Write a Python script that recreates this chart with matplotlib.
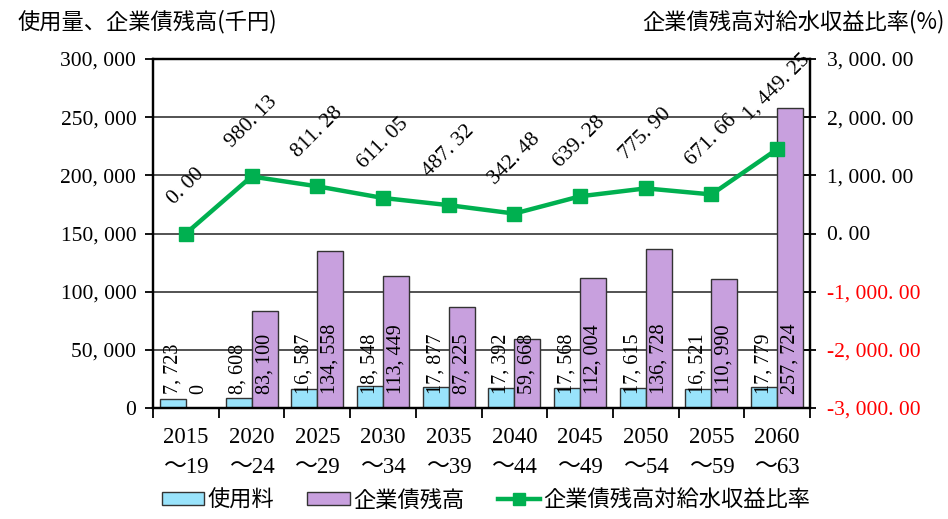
import matplotlib
matplotlib.use("Agg")
import matplotlib.pyplot as plt
import numpy as np
from matplotlib.patches import Patch
from matplotlib.lines import Line2D

plt.rcParams['font.family'] = ['Noto Sans CJK JP', 'DejaVu Sans']

# ---- data ----
period_start = ["2015", "2020", "2025", "2030", "2035", "2040", "2045", "2050", "2055", "2060"]
period_end = ["～19", "～24", "～29", "～34", "～39", "～44", "～49", "～54", "～59", "～63"]
usage_fee = [7723, 8608, 16587, 18548, 17877, 17392, 17568, 17615, 16521, 17779]
bond_balance = [0, 83100, 134558, 113449, 87225, 59668, 112004, 136728, 110990, 257724]
bond_ratio = [0.00, 980.13, 811.28, 611.05, 487.32, 342.48, 639.28, 775.90, 671.66, 1449.25]

left_ticks = [0, 50000, 100000, 150000, 200000, 250000, 300000]
right_ticks = [-3000, -2000, -1000, 0, 1000, 2000, 3000]

series_names = ["使用料", "企業債残高", "企業債残高対給水収益比率"]
left_title = "使用量、企業債残高(千円)"
right_title = "企業債残高対給水収益比率(%)"

# ---- style ----
c_blue = "#99E3FB"
c_purple = "#C8A0DE"
c_green = "#00B050"
num_font = ['Liberation Serif', 'Noto Sans CJK JP']
jp_size = 16

def fmt_int(v):
    return f"{v:,}".replace(",", ", ")

def fmt_2f(v):
    return f"{v:,.2f}".replace(",", ", ").replace(".", ". ")

fig = plt.figure(figsize=(9.48, 5.19), dpi=100)
ax = fig.add_axes([153/948, 1-408/519, (810-153)/948, (408-59)/519])
ax2 = ax.twinx()

x = np.arange(len(period_start))
w = 0.396

ax.set_axisbelow(True)
ax.yaxis.grid(True, color="#444444", linewidth=1.3)
ax.bar(x - w/2, usage_fee, width=w, color=c_blue, edgecolor="#333333", linewidth=1.0, zorder=2)
ax.bar(x + w/2, bond_balance, width=w, color=c_purple, edgecolor="#333333", linewidth=1.0, zorder=2)

for xi, v in zip(x, usage_fee):
    ax.annotate(fmt_int(v), (xi - w/2, 0), xytext=(0, 10), textcoords="offset points",
                rotation=90, ha="center", va="bottom", fontsize=14.5,
                family=num_font, zorder=3)
for xi, v in zip(x, bond_balance):
    ax.annotate(fmt_int(v), (xi + w/2, 0), xytext=(0, 10), textcoords="offset points",
                rotation=90, ha="center", va="bottom", fontsize=14.5,
                family=num_font, zorder=3)

ax.set_xlim(-0.5, len(x) - 0.5)
ax.set_ylim(0, 300000)
ax.set_yticks(left_ticks)
ax.set_yticklabels([fmt_int(v) for v in left_ticks], family=num_font, fontsize=15.5)
ax.set_xticks(np.arange(len(x) + 1) - 0.5)
ax.set_xticklabels([])
ax.set_xticks(x, minor=True)
ax.set_xticklabels([f"{a}\n{b}" for a, b in zip(period_start, period_end)], minor=True,
                   family=num_font, fontsize=16.5, linespacing=1.55)
ax.tick_params(axis="x", which="major", direction="out", length=7, width=1.3)
ax.tick_params(axis="x", which="minor", length=0, pad=14)
ax.tick_params(axis="y", direction="out", length=6, width=1.3, pad=6)

ax2.plot(x, bond_ratio, color=c_green, linewidth=3.2, marker="s", markersize=10,
         markeredgecolor=c_green, zorder=4)
for xi, v in zip(x, bond_ratio):
    ax2.annotate(fmt_2f(v), (xi, v), xytext=(0, 18), textcoords="offset points",
                 rotation=45, ha="center", va="bottom", fontsize=15.5,
                 family=num_font, annotation_clip=False)
ax2.set_ylim(-3000, 3000)
ax2.set_yticks(right_ticks)
ax2.set_yticklabels([fmt_2f(v) for v in right_ticks], family=num_font, fontsize=15.5)
for lbl, v in zip(ax2.get_yticklabels(), right_ticks):
    lbl.set_color("#FF0000" if v < 0 else "black")
ax2.tick_params(axis="y", direction="inout", length=8, width=1.3, pad=8)

for a in (ax, ax2):
    for s in a.spines.values():
        s.set_color("black")
        s.set_linewidth(1.6)

fig.text(18/948, 1-22/519, left_title, fontsize=jp_size, ha="left", va="center")
fig.text(945/948, 1-22/519, right_title, fontsize=jp_size, ha="right", va="center")

handles = [
    Patch(facecolor=c_blue, edgecolor="#333333", linewidth=1.0),
    Patch(facecolor=c_purple, edgecolor="#333333", linewidth=1.0),
    Line2D([0], [0], color=c_green, linewidth=3.2, marker="s", markersize=9),
]
fig.legend(handles, series_names, loc="center", bbox_to_anchor=(486/948, 1-500/519),
           ncol=3, frameon=False, fontsize=jp_size, handlelength=1.9, handleheight=0.5,
           handletextpad=0.15, columnspacing=1.5)

fig.savefig("out.png", dpi=100)
